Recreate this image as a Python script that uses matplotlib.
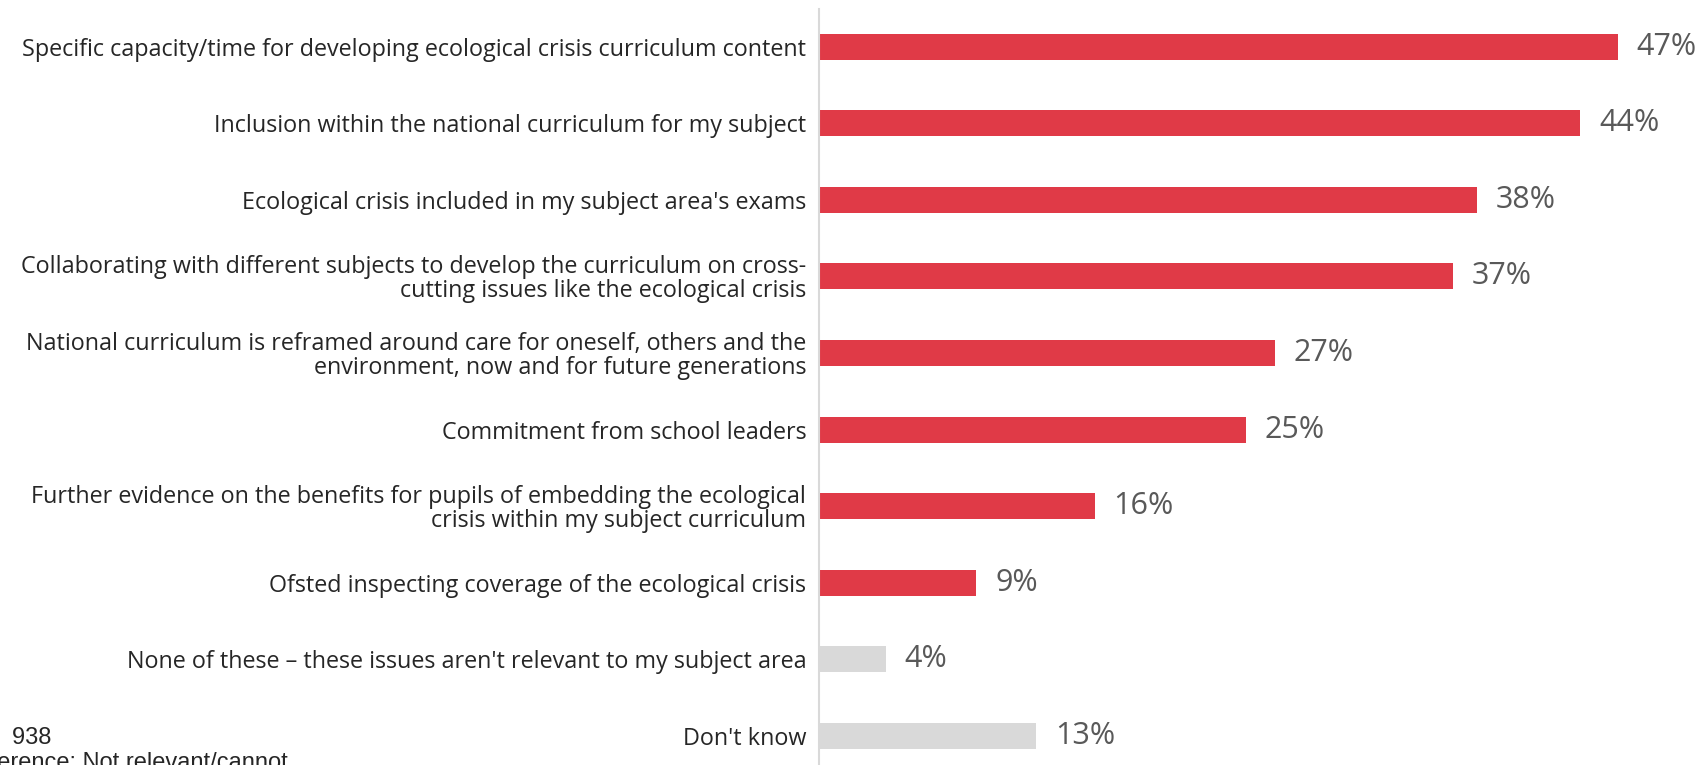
import matplotlib.pyplot as plt

# Survey answers, top to bottom
labels = [
    "Specific capacity/time for developing ecological crisis curriculum content",
    "Inclusion within the national curriculum for my subject",
    "Ecological crisis included in my subject area's exams",
    "Collaborating with different subjects to develop the curriculum on cross-\ncutting issues like the ecological crisis",
    "National curriculum is reframed around care for oneself, others and the\nenvironment, now and for future generations",
    "Commitment from school leaders",
    "Further evidence on the benefits for pupils of embedding the ecological\ncrisis within my subject curriculum",
    "Ofsted inspecting coverage of the ecological crisis",
    "None of these \u2013 these issues aren't relevant to my subject area",
    "Don't know",
]
values = [46.6, 44.4, 38.4, 37.0, 26.6, 24.9, 16.1, 9.2, 3.9, 12.7]
pct_labels = ["47%", "44%", "38%", "37%", "27%", "25%", "16%", "9%", "4%", "13%"]
colors = ["#E03A47"] * 8 + ["#D9D9D9"] * 2

plt.rcParams['font.family'] = ['Open Sans', 'DejaVu Sans']

fig = plt.figure(figsize=(17.02, 7.65), dpi=100)
ax = fig.add_axes([0.481, 0.0, 0.519, 0.988])

y = list(range(len(values)))
ax.barh(y, values, height=0.34, color=colors)

for yi, v, lab in zip(y, values, pct_labels):
    ax.text(v + 1.1, yi, lab, va='center', ha='left', fontsize=22, color='#595959')

ax.set_yticks(y)
ax.set_yticklabels(labels, fontsize=16.8, color='#262626', linespacing=1.0)
ax.tick_params(axis='y', length=0, pad=9)
ax.set_ylim(9.38, -0.49)
ax.set_xlim(0, 51.5)
ax.set_xticks([])

for s in ['top', 'right', 'bottom']:
    ax.spines[s].set_visible(False)
ax.spines['left'].set_color('#D9D9D9')
ax.spines['left'].set_linewidth(1.5)

# footnote, partly cut off at the left edge like the original
fig.text(51 / 1702, 1 - 738 / 765, "Base:   938", ha='right', va='center', fontsize=17,
         color='#262626', family='Liberation Sans')
fig.text(288 / 1702, 1 - 763 / 765, "Difference: Not relevant/cannot", ha='right', va='center',
         fontsize=17, color='#262626', family='Liberation Sans')

fig.savefig("out.png", dpi=100)
